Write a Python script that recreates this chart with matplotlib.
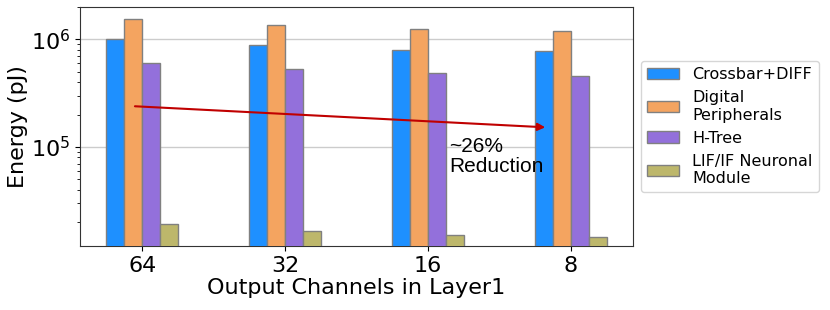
import matplotlib
matplotlib.use("Agg")
import matplotlib.pyplot as plt
import numpy as np

categories = ["64", "32", "16", "8"]
series_names = ["Crossbar+DIFF", "Digital\nPeripherals", "H-Tree", "LIF/IF Neuronal\nModule"]
crossbar = [1.0e6, 8.9e5, 8.07e5, 7.78e5]
digital = [1.56e6, 1.36e6, 1.24e6, 1.19e6]
htree = [6.07e5, 5.26e5, 4.83e5, 4.62e5]
neuron = [1.93e4, 1.67e4, 1.52e4, 1.47e4]
colors = ["#1E90FF", "#F4A460", "#9370DB", "#BDB76B"]

fig = plt.figure(figsize=(8.3, 3.1), dpi=100)
ax = fig.add_axes([0.0964, 0.2065, 0.6663, 0.7705])

x = np.arange(len(categories))
w = 0.125
data = [crossbar, digital, htree, neuron]
for i, (vals, name, c) in enumerate(zip(data, series_names, colors)):
    ax.bar(x + (i - 1.5) * w, vals, width=w, color=c, edgecolor="#808080",
           linewidth=1.0, label=name, zorder=3)

ax.set_yscale("log")
ax.set_ylim(1.2e4, 2.0e6)
ax.set_xlim(-0.435, 3.435)
ax.set_xticks(x)
ax.set_xticklabels(categories, fontsize=16)
ax.tick_params(axis="y", labelsize=16)
ax.set_ylabel("Energy (pJ)", fontsize=16, labelpad=2)
ax.set_xlabel("Output Channels in Layer1", fontsize=16, labelpad=2)
ax.yaxis.grid(True, which="major", color="#cccccc", linewidth=1.0, zorder=0)
ax.set_axisbelow(True)
for s in ax.spines.values():
    s.set_color("#333333")

ax.annotate("", xy=(2.84, 1.52e5), xytext=(-0.07, 2.4e5),
            arrowprops=dict(arrowstyle="-|>", color="#C00000", lw=1.5,
                            mutation_scale=11), zorder=5)
ax.text(2.15, 1.25e5, "~26%\nReduction", fontsize=15, family="Liberation Sans",
        va="top", ha="left", linespacing=1.1, zorder=6)

ax.legend(loc="center left", bbox_to_anchor=(1.0, 0.5), fontsize=11.5,
          handlelength=2.0, frameon=True, borderaxespad=0.5, labelspacing=0.5)

fig.savefig("out.png", dpi=100)
